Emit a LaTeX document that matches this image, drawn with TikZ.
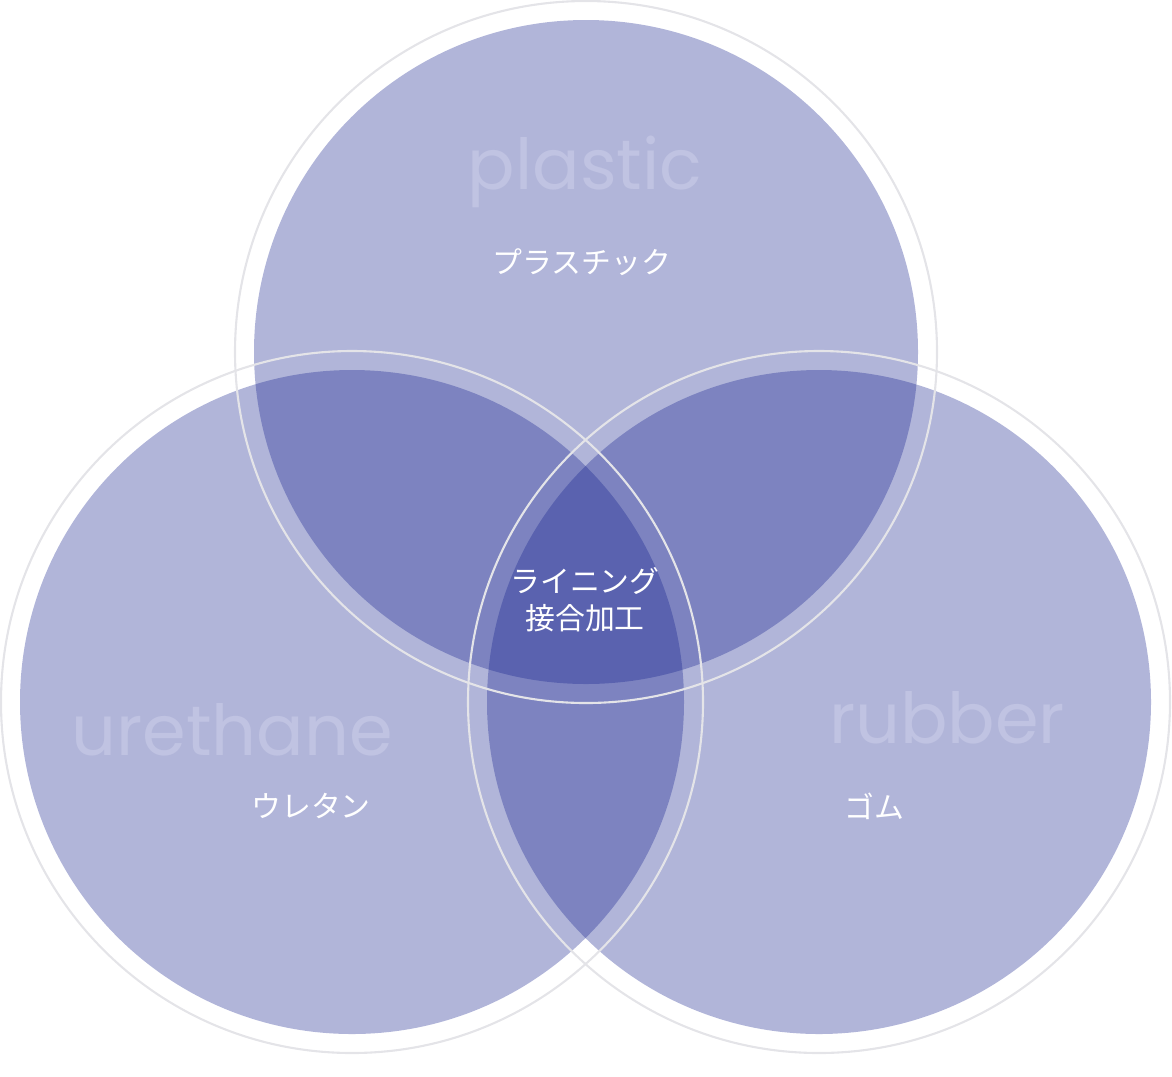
\documentclass[tikz,border=0pt]{standalone}
\usepackage{fontspec}
\setsansfont{Poppins}
\newfontfamily\jpfont{Noto Sans CJK JP}
\definecolor{setfill}{RGB}{21,33,141}
\definecolor{ringgray}{RGB}{228,228,232}
\definecolor{wordcol}{RGB}{192,195,226}
\begin{document}
\begin{tikzpicture}[
  x=0.02cm, y=-0.02cm,
  setdisc/.style={fill=setfill, fill opacity=0.333, draw=none},
  setring/.style={draw=ringgray, line width=1.2pt},
  engword/.style={text=wordcol, font=\sffamily\fontsize{40}{40}\selectfont},
  jpword/.style={text=white, font=\jpfont\fontsize{17}{21}\selectfont, align=center},
]
\useasboundingbox (0,0) rectangle (1172,1076);

% circles
\coordinate (ctop) at (586,352);
\coordinate (cleft) at (352,702);
\coordinate (cright) at (819,702);
\foreach \c in {ctop,cleft,cright}
  \fill[setdisc] (\c) circle (332);
\foreach \c in {ctop,cleft,cright}
  \draw[setring] (\c) circle (351);

% labels
\node[engword] (plasticen) at (585,172) {plastic};
\node[jpword] (plasticjp) at (582,262) {プラスチック};
\node[engword] (urethaneen) at (232,730) {urethane};
\node[jpword] (urethanejp) at (311,806) {ウレタン};
\node[engword] (rubberen) at (947,718) {rubber};
\node[jpword] (rubberjp) at (874,806) {ゴム};
\node[jpword] (center) at (585,600) {ライニング\\接合加工};
\end{tikzpicture}
\end{document}
